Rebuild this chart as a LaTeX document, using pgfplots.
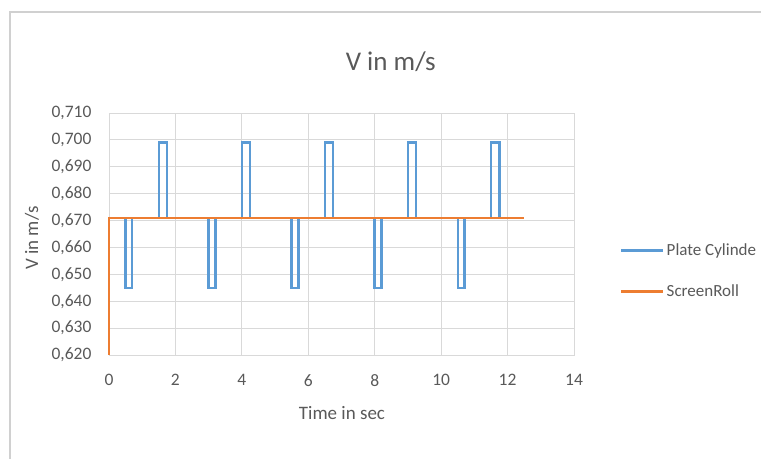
\documentclass[border=0pt]{standalone}
\usepackage{pgfplots}
\pgfplotsset{compat=1.18}
\usepackage{fontspec}
\setmainfont{Carlito}
\definecolor{txt}{HTML}{595959}
\definecolor{gridc}{HTML}{D9D9D9}
\definecolor{frame}{HTML}{D0D0D0}
\definecolor{sblue}{HTML}{5B9BD5}
\definecolor{sorange}{HTML}{ED7D31}
\begin{document}
\begin{tikzpicture}[x=1pt,y=1pt]
\useasboundingbox (0,0) rectangle (761,459);
\draw[frame, line width=2pt] (761,447) -- (10,447) -- (10,0);
\begin{axis}[
  at={(109pt,104pt)}, anchor=south west,
  scale only axis, width=465pt, height=242pt,
  xmin=0, xmax=14, ymin=0.62, ymax=0.71,
  xtick={0,2,...,14},
  ytick={0.62,0.63,0.64,0.65,0.66,0.67,0.68,0.69,0.70,0.71},
  yticklabel style={/pgf/number format/.cd, fixed, fixed zerofill, precision=3, use comma},
  /pgf/number format/assume math mode=true,
  ticklabel style={font=\fontsize{17.5}{20}\selectfont, text=txt},
  major tick length=0pt,
  xticklabel shift=16pt, yticklabel shift=14pt,
  grid=major, grid style={gridc, line width=0.9pt},
  axis line style={gridc, line width=0.9pt},
  title={V in m/s},
  title style={font=\fontsize{27}{30}\selectfont, text=txt, at={(axis description cs:0.606,1.186)}, anchor=center},
  xlabel={Time in sec},
  xlabel style={font=\fontsize{19}{22}\selectfont, text=txt, at={(axis description cs:0.501,-0.24)}, anchor=center},
  ylabel={V in m/s},
  ylabel style={font=\fontsize{19}{22}\selectfont, text=txt, at={(axis description cs:-0.1656,0.483)}, anchor=center},
  legend style={at={(1.099,0.347)}, anchor=west, draw=none, fill=none, inner sep=0pt,
    font=\fontsize{17}{20}\selectfont, text=txt, row sep=24pt},
  legend cell align=left,
  legend image code/.code={\draw[#1, line width=2.5pt] (0pt,0pt) -- (42pt,0pt);},
  clip=false,
]
\addplot[sblue, line width=2.5pt, line join=miter] coordinates {
(0,0.671) (0.5,0.671) (0.5,0.645) (0.7,0.645) (0.7,0.671)
(1.5,0.671) (1.5,0.699) (1.75,0.699) (1.75,0.671)
(3.0,0.671) (3.0,0.645) (3.2,0.645) (3.2,0.671)
(4.0,0.671) (4.0,0.699) (4.25,0.699) (4.25,0.671)
(5.5,0.671) (5.5,0.645) (5.7,0.645) (5.7,0.671)
(6.5,0.671) (6.5,0.699) (6.75,0.699) (6.75,0.671)
(8.0,0.671) (8.0,0.645) (8.2,0.645) (8.2,0.671)
(9.0,0.671) (9.0,0.699) (9.25,0.699) (9.25,0.671)
(10.5,0.671) (10.5,0.645) (10.7,0.645) (10.7,0.671)
(11.5,0.671) (11.5,0.699) (11.75,0.699) (11.75,0.671)
(12.5,0.671)
};
\addlegendentry{Plate Cylinde}
\addplot[sorange, line width=2.5pt, line join=miter] coordinates {
(0,0.62) (0,0.671) (12.5,0.671)
};
\addlegendentry{ScreenRoll}
\end{axis}
\end{tikzpicture}
\end{document}
